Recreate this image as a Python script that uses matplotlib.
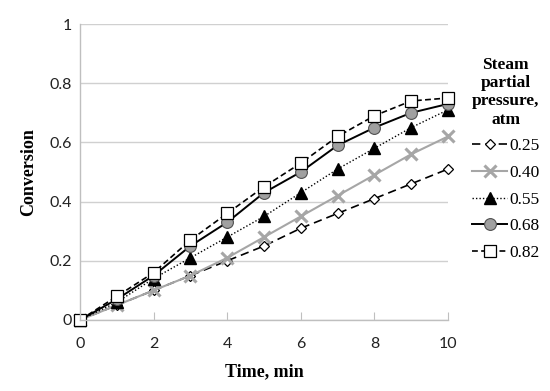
import matplotlib
matplotlib.use("Agg")
import matplotlib.pyplot as plt

# time, min
time = [0, 1, 2, 3, 4, 5, 6, 7, 8, 9, 10]

# conversion for each steam partial pressure (atm)
p025 = [0, 0.05, 0.10, 0.15, 0.20, 0.25, 0.31, 0.36, 0.41, 0.46, 0.51]
p040 = [0, 0.05, 0.10, 0.15, 0.21, 0.28, 0.35, 0.42, 0.49, 0.56, 0.62]
p055 = [0, 0.06, 0.14, 0.21, 0.28, 0.35, 0.43, 0.51, 0.58, 0.65, 0.71]
p068 = [0, 0.07, 0.15, 0.25, 0.33, 0.43, 0.50, 0.59, 0.65, 0.70, 0.73]
p082 = [0, 0.08, 0.16, 0.27, 0.36, 0.45, 0.53, 0.62, 0.69, 0.74, 0.75]

labels = ["0.25", "0.40", "0.55", "0.68", "0.82"]
xticks = [0, 2, 4, 6, 8, 10]
yticks = [0, 0.2, 0.4, 0.6, 0.8, 1]
ytick_labels = ["0", "0.2", "0.4", "0.6", "0.8", "1"]

serif = "Liberation Serif"
sans = "Lato"

fig = plt.figure(figsize=(5.5, 3.91), dpi=100)
ax = fig.add_axes([0.1455, 0.1816, 0.669, 0.757])

ax.plot(time, p025, color="black", linestyle=(0, (5, 3)), linewidth=1.2,
        marker="D", markersize=5.5, markerfacecolor="white",
        markeredgecolor="black", markeredgewidth=0.9, label=labels[0], clip_on=False)
ax.plot(time, p040, color="#a6a6a6", linestyle="-", linewidth=1.5,
        marker="x", markersize=8, markeredgewidth=2.2, label=labels[1], clip_on=False)
ax.plot(time, p055, color="black", linestyle=(0, (1, 1.5)), linewidth=1.0,
        marker="^", markersize=8, markerfacecolor="black",
        markeredgecolor="black", label=labels[2], clip_on=False)
ax.plot(time, p068, color="black", linestyle="-", linewidth=1.4,
        marker="o", markersize=8.5, markerfacecolor="#a0a0a0",
        markeredgecolor="#505050", markeredgewidth=0.8, label=labels[3], clip_on=False)
ax.plot(time, p082, color="black", linestyle=(0, (3.5, 2)), linewidth=1.2,
        marker="s", markersize=9, markerfacecolor="white",
        markeredgecolor="black", markeredgewidth=0.9, label=labels[4], clip_on=False)

ax.set_xlim(0, 10)
ax.set_ylim(0, 1)
ax.set_xticks(xticks)
ax.set_yticks(yticks)
ax.set_yticklabels(ytick_labels)

for s in ["top", "right"]:
    ax.spines[s].set_visible(False)
for s in ["left", "bottom"]:
    ax.spines[s].set_color("#bfbfbf")
    ax.spines[s].set_linewidth(1.0)

ax.yaxis.grid(True, color="#d0d0d0", linewidth=1.0)
ax.set_axisbelow(True)
ax.tick_params(axis="y", length=0, pad=6, labelsize=11.5, labelcolor="#222222")
ax.tick_params(axis="x", direction="in", length=6, color="#bfbfbf", pad=12,
               labelsize=11.5, labelcolor="#222222")
for t in ax.get_xticklabels() + ax.get_yticklabels():
    t.set_fontfamily(sans)

ax.set_xlabel("Time, min", fontfamily=serif, fontweight="bold", fontsize=13, labelpad=9)
ax.set_ylabel("Conversion", fontfamily=serif, fontweight="bold", fontsize=13, labelpad=9)

leg = fig.legend(loc="upper left", bbox_to_anchor=(0.83, 0.895), frameon=False,
                 title="Steam\npartial\npressure,\natm", handlelength=2.0,
                 handletextpad=0.1, labelspacing=0.6,
                 prop={"family": serif, "size": 12.5},
                 title_fontproperties={"family": serif, "weight": "bold", "size": 12.5})
leg.get_title().set_multialignment("center")

fig.savefig("out.png", dpi=100)
